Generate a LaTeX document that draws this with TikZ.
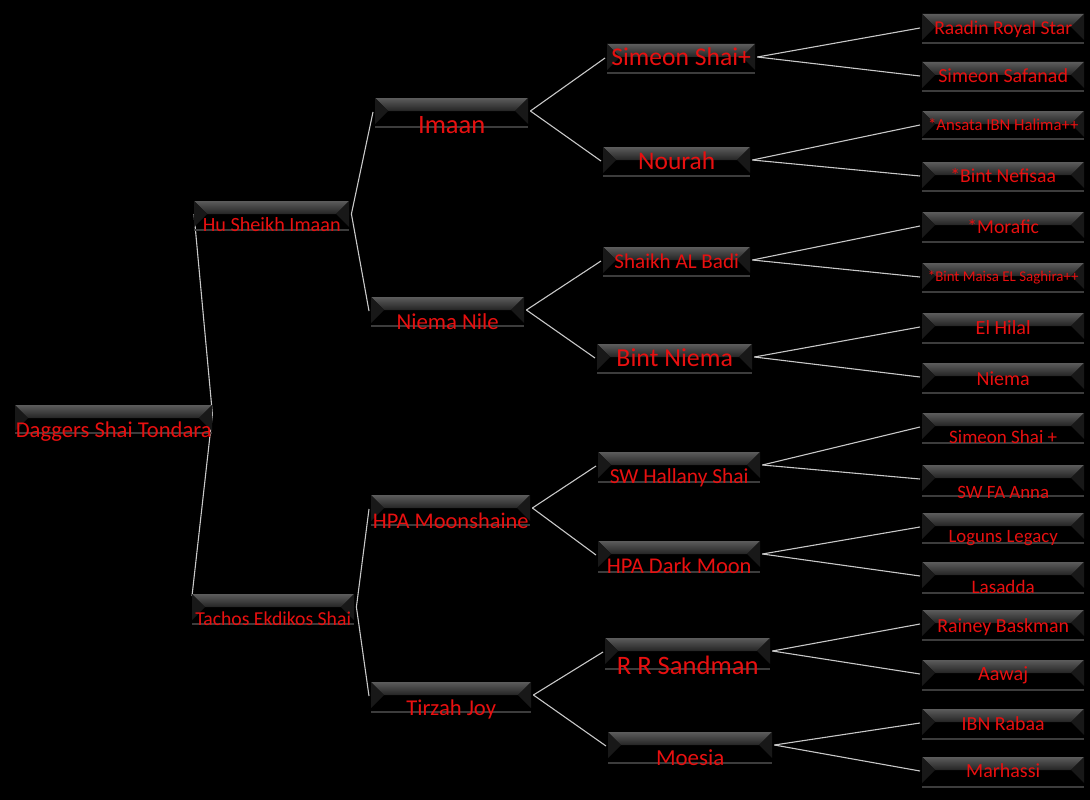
\documentclass[tikz,border=0pt]{standalone}
\usepackage{fontspec}
\setmainfont{Carlito}
\usetikzlibrary{backgrounds}
\definecolor{pedred}{RGB}{232,16,16}
\definecolor{bandtop}{RGB}{92,92,92}
\definecolor{bandbot}{RGB}{36,36,36}
\definecolor{bevel}{RGB}{24,24,24}
\definecolor{rulegray}{RGB}{60,60,60}
\definecolor{linkgray}{RGB}{200,200,200}
\newcommand\fsz[1]{\fontsize{#1}{#1}\selectfont}

\begin{document}
\begin{tikzpicture}[
  x=1pt, y=-1pt,
  horse/.style={inner sep=0pt, anchor=north west, text=pedred, text depth=3pt},
  band/.style={top color=bandtop, bottom color=bandbot},
  link/.style={draw=linkgray, line width=1.1pt}
]
\useasboundingbox (0,0) rectangle (1090,800);

\foreach \n/\xa/\xb/\yt/\yb/\yl/\fs/\txt in {
  dag/15/212/405/433/437/22.6/Daggers Shai Tondara,
  hsi/194/349/201/230/231/20.2/Hu Sheikh Imaan,
  tes/192/354/594/624/625/19.7/Tachos Ekdikos Shai,
  ima/375/528/98/127/133/26.5/Imaan,
  nni/371/524/297/326/329/22.8/Niema Nile,
  hpm/371/530/495/525/528/22.4/HPA Moonshaine,
  tjo/371/531/682/712/715/22.6/Tirzah Joy,
  ssh/607/755/44/73/65/25.6/Simeon Shai+,
  nou/603/750/147/176/169/25.4/Nourah,
  sab/603/750/247/276/268/21.1/Shaikh AL Badi,
  bni/597/752/344/373/366/25.9/Bint Niema,
  swh/598/760/452/482/483/21.4/SW Hallany Shai,
  hdm/598/760/541/572/573/22.5/HPA Dark Moon,
  rrs/605/770/638/669/674/26.6/R R Sandman,
  moe/608/772/732/763/765/22.9/Moesia,
  rrst/922/1084/14/43/34/19.6/Raadin Royal Star,
  ssaf/922/1084/62/91/82/20/Simeon Safanad,
  ansa/922/1084/111/139/130/16.7/*Ansata IBN Halima++,
  bnef/922/1084/162/191/182/19.7/*Bint Nefisaa,
  mora/922/1084/212/242/233/19.7/*Morafic,
  bmai/922/1084/263/292/281/14.9/*Bint Maisa EL Saghira++,
  ehil/922/1084/313/343/334/20.1/El Hilal,
  niem/922/1084/363/393/385/20/Niema,
  sshp/922/1084/413/443/443/19/Simeon Shai +,
  swfa/922/1084/465/496/498/18.8/SW FA Anna,
  logu/922/1084/513/543/542/18.8/Loguns Legacy,
  lasa/922/1084/562/593/593/19.1/Lasadda,
  rbas/922/1084/610/640/632/19.9/Rainey Baskman,
  aawa/922/1084/660/690/680/20.2/Aawaj,
  irab/922/1084/709/739/730/19.9/IBN Rabaa,
  marh/922/1084/757/787/777/20/Marhassi}
{
  \pgfmathsetmacro\bw{\xb-\xa}
  \pgfmathsetmacro\th{\yl-\yt}
  \fill[band] (\xa,\yt) -- (\xb,\yt) -- (\xb-13,\yt+13) -- (\xa+13,\yt+13) -- cycle;
  \fill[bevel] (\xa,\yt) -- (\xa+13,\yt+13) -- (\xa,\yt+26) -- cycle;
  \fill[bevel] (\xb,\yt) -- (\xb-13,\yt+13) -- (\xb,\yt+26) -- cycle;
  \draw[rulegray, line width=1.2pt] (\xa,\yb) -- (\xb,\yb);
  \node[horse, font=\fsz{\fs}, minimum width=\bw pt, text height=\th pt] (\n) at (\xa,\yt) {\txt};
}

\begin{scope}[on background layer]
\fill[black] (0,0) rectangle (1090,800);
\draw[link] ([yshift=-9pt]dag.north east) -- ([yshift=-13pt]hsi.north west);
\draw[link] ([yshift=-9pt]dag.north east) -- ([yshift=-2pt]tes.north west);
\foreach \a/\b in {hsi/ima, hsi/nni, tes/hpm, tes/tjo,
    ima/ssh, ima/nou, nni/sab, nni/bni, hpm/swh, hpm/hdm, tjo/rrs, tjo/moe,
    ssh/rrst, ssh/ssaf, nou/ansa, nou/bnef, sab/mora, sab/bmai,
    bni/ehil, bni/niem, swh/sshp, swh/swfa, hdm/logu, hdm/lasa,
    rrs/rbas, rrs/aawa, moe/irab, moe/marh}
  \draw[link] ([xshift=2pt, yshift=-13pt]\a.north east) -- ([xshift=-2pt, yshift=-14pt]\b.north west);
\end{scope}
\end{tikzpicture}
\end{document}
